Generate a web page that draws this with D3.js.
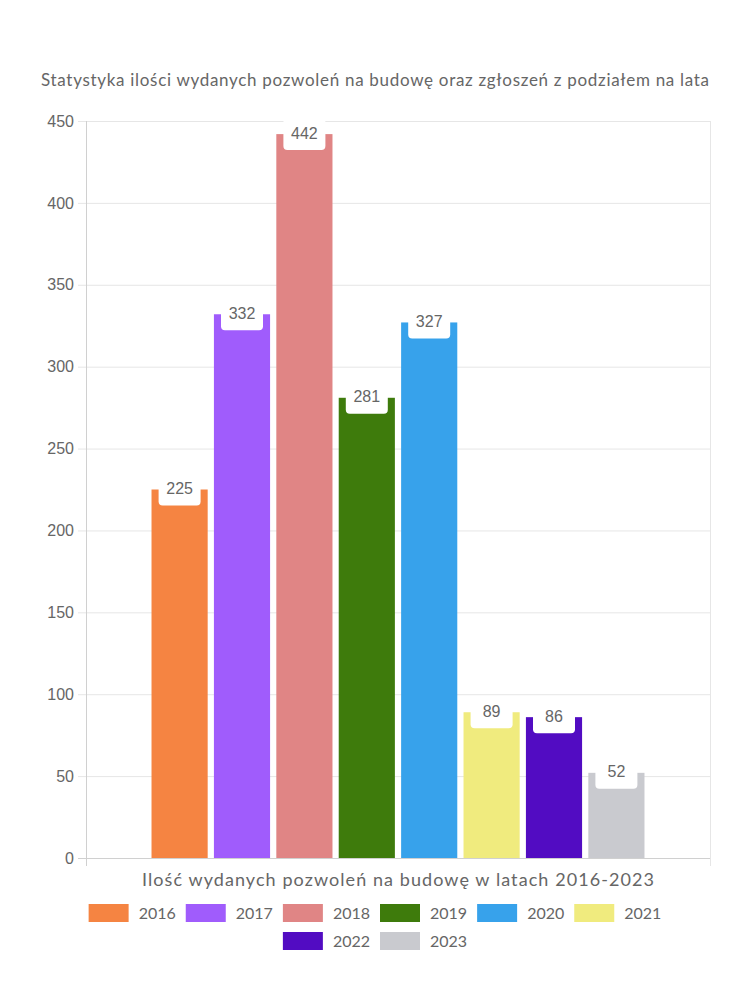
<!DOCTYPE html>
<html><head><meta charset="utf-8">
<script src="https://cdn.jsdelivr.net/npm/d3@7"></script>
<style>body{margin:0;background:#fff}svg{display:block}</style>
</head><body>
<svg id="c" width="750" height="1000"></svg>
<script>
const years = ["2016","2017","2018","2019","2020","2021","2022","2023"];
const values = [225, 332, 442, 281, 327, 89, 86, 52];
const colors = ["#f58442","#a05cfc","#e08585","#3e7b0c","#37a2eb","#f0eb7e","#520cc2","#c9cacf"];
const yTicks = [0,50,100,150,200,250,300,350,400,450];
const category = ["Ilość wydanych pozwoleń na budowę w latach 2016-2023"];
const titleText = "Statystyka ilości wydanych pozwoleń na budowę oraz zgłoszeń z podziałem na lata";

const svg = d3.select("#c");
const fontR = "Lato, 'Noto Sans', sans-serif";
const fontA = "'Liberation Sans', Arial, sans-serif";
const m = {left:86, right:710, top:121, bottom:858};

const y = d3.scaleLinear().domain([0,450]).range([m.bottom, m.top]);
const x0 = d3.scaleBand().domain(category).range([m.left, m.right]).paddingInner(0).paddingOuter(0.125);
const x1 = d3.scaleBand().domain(years).range([0, x0.bandwidth()]).paddingInner(0.1).paddingOuter(0.05);

// grid
const grid = svg.append("g");
grid.selectAll("line.h").data(yTicks).join("line")
  .attr("x1", m.left-8).attr("x2", m.right)
  .attr("y1", d=>y(d)+0.5).attr("y2", d=>y(d)+0.5)
  .attr("stroke", d=> d===0 ? "#d0d0d0" : "#e6e6e6");
grid.append("line").attr("x1", m.left+0.5).attr("x2", m.left+0.5).attr("y1", m.top).attr("y2", m.bottom+8).attr("stroke","#d0d0d0");
grid.append("line").attr("x1", m.right+0.5).attr("x2", m.right+0.5).attr("y1", m.top).attr("y2", m.bottom+8).attr("stroke","#e6e6e6");

// y axis labels
const yAxis = d3.axisLeft(y).tickValues(yTicks).tickSize(0).tickPadding(12);
const ga = svg.append("g").attr("transform", `translate(${m.left},0)`).call(yAxis);
ga.select(".domain").remove();
ga.selectAll("text").attr("font-family", fontA).attr("font-size", 16).attr("fill", "#666");

// bars
const gb = svg.append("g").attr("transform", `translate(${x0(category[0])},0)`);
const data = years.map((yr,i)=>({yr, v:values[i], c:colors[i]}));
gb.selectAll("rect.bar").data(data).join("rect")
  .attr("x", d=>x1(d.yr)).attr("width", x1.bandwidth())
  .attr("y", d=>y(d.v)).attr("height", d=>y(0)-y(d.v))
  .attr("fill", d=>d.c);

// labels
const lg = gb.selectAll("g.lab").data(data).join("g")
  .attr("transform", d=>`translate(${x1(d.yr)+x1.bandwidth()/2},${y(d.v)})`);
lg.append("rect").attr("x",-21).attr("width",42).attr("y",-16).attr("height",32).attr("rx",4).attr("fill","#fff");
lg.append("text").attr("text-anchor","middle").attr("dy","0.35em").attr("y",-1)
  .attr("font-family", fontA).attr("font-size", 16).attr("fill","#666").text(d=>d.v);

// title
svg.append("text").attr("x", 375).attr("y", 86).attr("text-anchor","middle")
  .attr("font-family", fontR).attr("font-size", 17).attr("fill","#666")
  .attr("textLength", 668).attr("lengthAdjust","spacing").text(titleText);

// x title
svg.append("text").attr("x", (m.left+m.right)/2).attr("y", 886).attr("text-anchor","middle")
  .attr("font-family", fontR).attr("font-size", 18).attr("fill","#666")
  .attr("textLength", 512).attr("lengthAdjust","spacing").text(category[0]);

// legend
const leg = svg.append("g");
const items = data.map(d=>{
  const tt = leg.append("text").attr("font-family", fontR).attr("font-size",16).attr("fill","#666").text(d.yr);
  return {d, tt, w: 40 + 10 + tt.node().getComputedTextLength()};
});
const rows = [items.slice(0,6), items.slice(6)];
const rowY = [913, 941];
rows.forEach((row,ri)=>{
  const total = d3.sum(row, r=>r.w) + 10*(row.length-1);
  let cx = 375 - total/2;
  row.forEach(r=>{
    leg.append("rect").attr("x", cx).attr("y", rowY[ri]-9).attr("width",40).attr("height",18).attr("fill", r.d.c);
    r.tt.attr("x", cx+50).attr("y", rowY[ri]).attr("dy","0.35em");
    cx += r.w + 10;
  });
});
</script>
</body></html>
